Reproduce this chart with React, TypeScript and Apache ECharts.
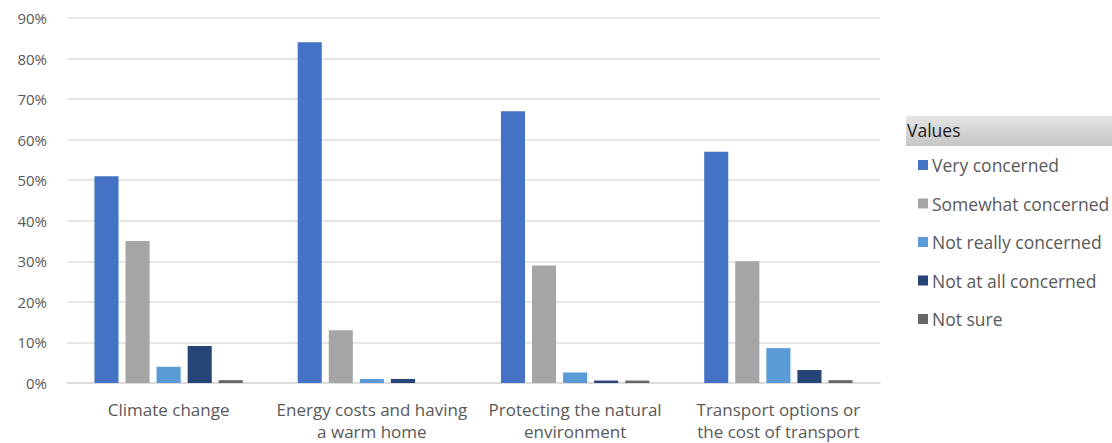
import React, { useEffect, useRef } from "react";
import * as echarts from "echarts";

const categories = [
  "Climate change",
  "Energy costs and having\na warm home",
  "Protecting the natural\nenvironment",
  "Transport options or\nthe cost of transport",
];

const seriesNames = [
  "Very concerned",
  "Somewhat concerned",
  "Not really concerned",
  "Not at all concerned",
  "Not sure",
];

const veryConcerned = [0.51, 0.84, 0.67, 0.57];
const somewhatConcerned = [0.35, 0.13, 0.29, 0.3];
const notReallyConcerned = [0.04, 0.01, 0.026, 0.086];
const notAtAllConcerned = [0.091, 0.01, 0.006, 0.032];
const notSure = [0.007, 0, 0.006, 0.007];

const seriesColors = ["#4472C4", "#A5A5A5", "#5B9BD5", "#264478", "#666666"];

const yTicks = [0, 0.1, 0.2, 0.3, 0.4, 0.5, 0.6, 0.7, 0.8, 0.9];

const FONT = "'Open Sans', 'Noto Sans', sans-serif";
const TEXT = "#595959";

export default function App() {
  const ref = useRef<HTMLDivElement>(null);

  useEffect(() => {
    if (!ref.current) return;
    const chart = echarts.init(ref.current, undefined, { renderer: "svg" });
    const values = [
      veryConcerned,
      somewhatConcerned,
      notReallyConcerned,
      notAtAllConcerned,
      notSure,
    ];
    chart.setOption({
      animation: false,
      backgroundColor: "#ffffff",
      textStyle: { fontFamily: FONT },
      grid: { left: 67, right: 232, top: 18, bottom: 60, outerBoundsMode: "none" },
      legend: {
        orient: "vertical",
        left: 913,
        top: 148,
        itemWidth: 10,
        itemHeight: 10,
        itemGap: 14.5,
        icon: "rect",
        data: seriesNames,
        textStyle: { color: TEXT, fontSize: 17.5, fontFamily: FONT, lineHeight: 24, padding: [0, 0, 0, -1] },
      },
      graphic: [
        {
          type: "rect",
          left: 906,
          top: 116,
          shape: { width: 206, height: 30 },
          style: {
            fill: new echarts.graphic.LinearGradient(0, 0, 0, 1, [
              { offset: 0, color: "#e4e4e4" },
              { offset: 1, color: "#c6c6c6" },
            ]),
          },
        },
        {
          type: "text",
          left: 907,
          top: 121,
          style: { text: "Values", fill: "#1e1e1e", fontSize: 17.5, fontFamily: FONT },
        },
      ],
      xAxis: {
        type: "category",
        data: categories,
        axisTick: { show: false },
        axisLine: { lineStyle: { color: "#d9d9d9", width: 1.5 } },
        axisLabel: {
          interval: 0,
          color: TEXT,
          fontSize: 17,
          lineHeight: 22,
          margin: 15,
          fontFamily: FONT,
        },
      },
      yAxis: {
        type: "value",
        min: yTicks[0],
        max: yTicks[yTicks.length - 1],
        interval: 0.1,
        axisLine: { show: false },
        axisTick: { show: false },
        splitLine: { lineStyle: { color: "#dedede", width: 1.5 } },
        axisLabel: {
          color: TEXT,
          fontSize: 15,
          margin: 20,
          fontFamily: FONT,
          formatter: (v: number) => `${Math.round(v * 100)}%`,
        },
      },
      series: seriesNames.map((name, i) => ({
        name,
        type: "bar",
        data: values[i],
        barGap: "29%",
        barCategoryGap: "27%",
        itemStyle: { color: seriesColors[i] },
      })),
    });
    return () => chart.dispose();
  }, []);

  return (
    <div
      ref={ref}
      style={{ position: "fixed", left: 0, top: 0, width: 1112, height: 443 }}
    />
  );
}
